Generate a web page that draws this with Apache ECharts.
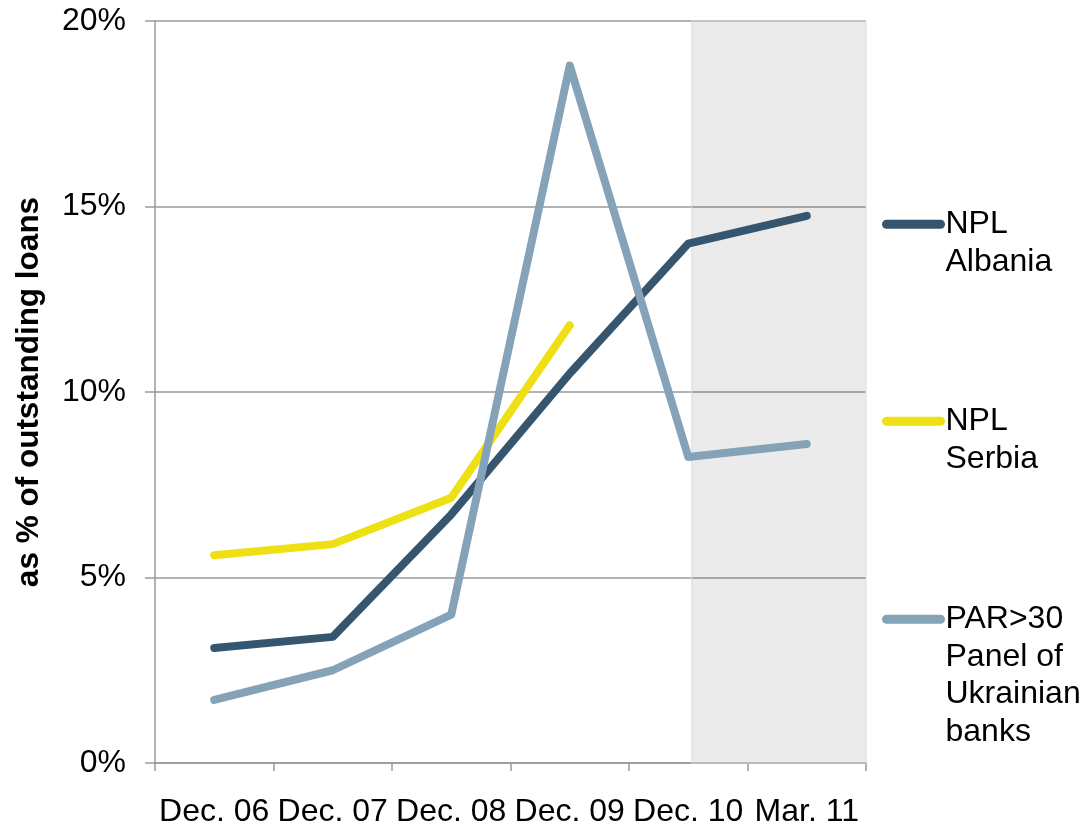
<!DOCTYPE html>
<html lang="en">
  <head>
    <meta charset="UTF-8" />
    <title>NPL ratios</title>
    <script src="https://cdn.jsdelivr.net/npm/echarts@6.0.0/dist/echarts.min.js"></script>
    <style>
      body {
        margin: 0;
        padding: 0;
        background: #fff;
      }
      #chart {
        width: 1081px;
        height: 828px;
      }
    </style>
  </head>
  <body>
    <div id="chart"></div>

    <script>
      // data
      var periods = ['Dec. 06', 'Dec. 07', 'Dec. 08', 'Dec. 09', 'Dec. 10', 'Mar. 11'];
      var nplAlbania = [3.1, 3.4, 6.7, 10.5, 14.0, 14.75];
      var nplSerbia = [5.6, 5.9, 7.15, 11.8, null, null];
      var parUkraine = [1.7, 2.5, 4.0, 18.8, 8.25, 8.6];
      var seriesNames = ['NPL Albania', 'NPL Serbia', 'PAR>30 Panel of Ukrainian banks'];
      // legend text, first line lines up with the icon
      var legendLabels = [
        '\nNPL\nAlbania',
        '\nNPL\nSerbia',
        '\n\n\nPAR>30\nPanel of\nUkrainian\nbanks'
      ];
      var colors = ['#36566f', '#eee012', '#85a3b8'];
      var shadedFrom = 4.53; // middle of Dec. 10 to the end of the axis
      var shadedTo = 6;

      var font = "'Liberation Sans', Arial, sans-serif";
      var chart = echarts.init(document.getElementById('chart'));

      function makeLegend(i, top) {
        return {
          data: [seriesNames[i]],
          orient: 'vertical',
          left: 882,
          top: top,
          padding: 0,
          itemWidth: 54,
          itemHeight: 12,
          itemGap: 0,
          selectedMode: false,
          formatter: function () {
            return legendLabels[i];
          },
          itemStyle: { opacity: 0 },
          lineStyle: { width: 9, cap: 'round' },
          textStyle: {
            fontFamily: font,
            fontSize: 32,
            lineHeight: 37.5,
            color: '#000'
          }
        };
      }

      var lineSeries = [nplAlbania, nplSerbia, parUkraine].map(function (vals, i) {
        return {
          name: seriesNames[i],
          type: 'line',
          data: vals,
          symbol: 'none',
          color: colors[i],
          connectNulls: false,
          lineStyle: { width: 8, color: colors[i], cap: 'round', join: 'round' },
          z: 3
        };
      });

      var option = {
        animation: false,
        grid: { left: 155, right: 215, top: 21, bottom: 63 },
        legend: [makeLegend(0, 168), makeLegend(1, 365), makeLegend(2, 488)],
        xAxis: [
          {
            type: 'category',
            data: periods,
            boundaryGap: true,
            axisLine: { lineStyle: { color: '#9a9a9a', width: 1.5 } },
            axisTick: { show: true, length: 8, lineStyle: { color: '#9a9a9a', width: 1.5 } },
            axisLabel: { interval: 0, margin: 33, fontFamily: font, fontSize: 32, color: '#000' },
            splitLine: { show: false }
          },
          {
            type: 'value',
            min: 0,
            max: 6,
            show: false
          }
        ],
        yAxis: {
          type: 'value',
          min: 0,
          max: 20,
          interval: 5,
          name: 'as % of outstanding loans',
          nameLocation: 'middle',
          nameGap: 110,
          nameTextStyle: { fontFamily: font, fontSize: 31.5, fontWeight: 'bold', color: '#000' },
          axisLine: { show: true, lineStyle: { color: '#9a9a9a', width: 1.5 } },
          axisTick: { show: true, length: 10, lineStyle: { color: '#9a9a9a', width: 1.5 } },
          axisLabel: { margin: 29, fontFamily: font, fontSize: 32, color: '#000', formatter: '{value}%' },
          splitLine: { show: true, lineStyle: { color: '#9a9a9a', width: 1.5 } }
        },
        series: [
          {
            name: 'shade',
            type: 'line',
            xAxisIndex: 1,
            data: [],
            silent: true,
            markArea: {
              silent: true,
              itemStyle: { color: 'rgba(0,0,0,0.078)', borderColor: '#dddddd', borderWidth: 1 },
              data: [[{ xAxis: shadedFrom, yAxis: 20 }, { xAxis: shadedTo, yAxis: 0 }]]
            },
            z: 1
          }
        ].concat(lineSeries)
      };

      chart.setOption(option);
    </script>
  </body>
</html>
